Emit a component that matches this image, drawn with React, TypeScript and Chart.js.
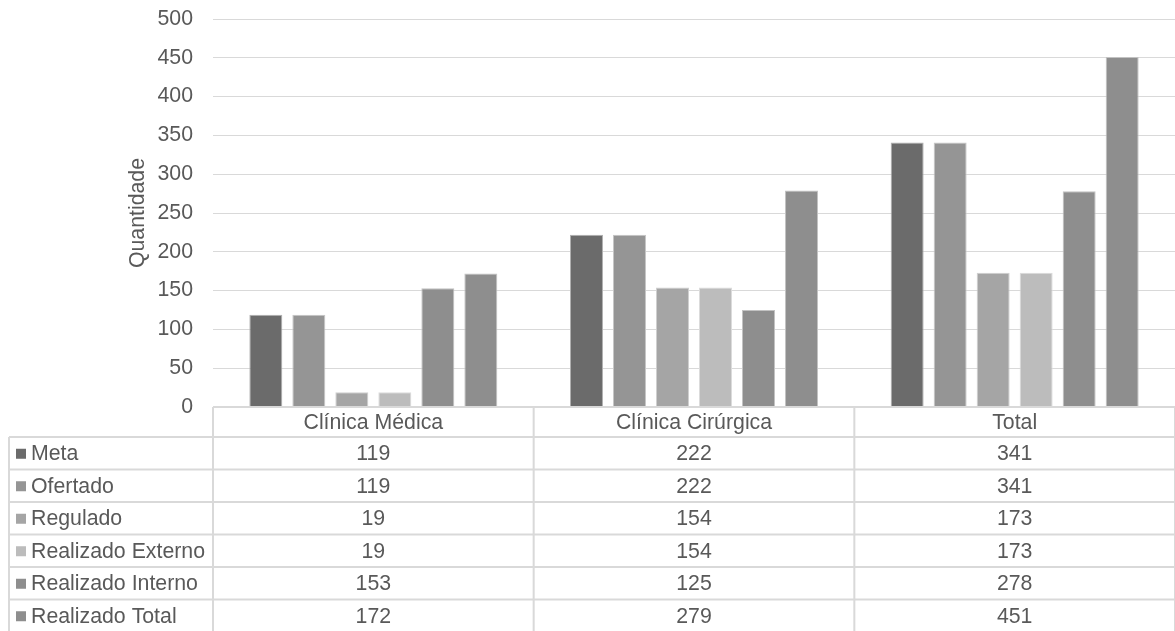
import React, { useEffect, useRef } from "react";
import { Chart, registerables } from "chart.js";

Chart.register(...registerables);

const categories = ["Clínica Médica", "Clínica Cirúrgica", "Total"];
const seriesNames = [
  "Meta",
  "Ofertado",
  "Regulado",
  "Realizado Externo",
  "Realizado Interno",
  "Realizado Total",
];
const meta = [119, 222, 341];
const ofertado = [119, 222, 341];
const regulado = [19, 154, 173];
const realizadoExterno = [19, 154, 173];
const realizadoInterno = [153, 125, 278];
const realizadoTotal = [172, 279, 451];
const yAxisTitle = "Quantidade";
const yMin = 0;
const yMax = 500;
const yStep = 50;

const seriesValues = [meta, ofertado, regulado, realizadoExterno, realizadoInterno, realizadoTotal];
const barColors = ["#6b6b6b", "#959595", "#a5a5a5", "#bcbcbc", "#8e8e8e", "#8e8e8e"];
const barBorders = ["#b0b0b0", "#c6c6c6", "#cfcfcf", "#dbdbdb", "#c2c2c2", "#c2c2c2"];

const FONT = "'Liberation Sans', Arial, Helvetica, sans-serif";
const FS = 21.3;
const TEXT = "#595959";
const LINE = "#d9d9d9";

const tablePlugin = {
  id: "dataTable",
  afterDraw(chart: any) {
    const ctx = chart.ctx as CanvasRenderingContext2D;
    const area = chart.chartArea;
    const xs = chart.scales.x;
    const n = categories.length;
    const centers = categories.map((_, i) => xs.getPixelForValue(i));
    const bounds: number[] = [area.left];
    for (let i = 0; i < n - 1; i++) bounds.push((centers[i] + centers[i + 1]) / 2);
    bounds.push(area.right);

    const tableLeft = 9;
    const headerTop = area.bottom;
    const headerH = 30;
    const rowH = 32.5;
    const rowsTop = headerTop + headerH;
    const bottom = rowsTop + rowH * seriesNames.length;

    ctx.save();
    ctx.strokeStyle = LINE;
    ctx.lineWidth = 2;
    ctx.beginPath();
    ctx.moveTo(area.left, headerTop);
    ctx.lineTo(area.right, headerTop);
    for (let r = 0; r <= seriesNames.length; r++) {
      const y = rowsTop + r * rowH;
      ctx.moveTo(tableLeft, y);
      ctx.lineTo(area.right, y);
    }
    for (let i = 0; i < bounds.length; i++) {
      ctx.moveTo(bounds[i], headerTop);
      ctx.lineTo(bounds[i], bottom);
    }
    ctx.moveTo(tableLeft, rowsTop);
    ctx.lineTo(tableLeft, bottom);
    ctx.stroke();

    ctx.fillStyle = TEXT;
    ctx.font = `${FS}px ${FONT}`;
    ctx.textBaseline = "middle";
    ctx.textAlign = "center";
    categories.forEach((c, i) => {
      ctx.fillText(c, centers[i], headerTop + headerH / 2 + 1);
    });

    seriesNames.forEach((name, r) => {
      const cy = rowsTop + r * rowH + rowH / 2 + 1;
      ctx.fillStyle = barColors[r];
      ctx.fillRect(16, cy - 5.5, 10, 10);
      ctx.fillStyle = TEXT;
      ctx.textAlign = "left";
      ctx.fillText(name, 31, cy);
      ctx.textAlign = "center";
      seriesValues[r].forEach((v, i) => {
        ctx.fillText(String(v), centers[i], cy);
      });
    });
    ctx.restore();
  },
};

export default function App() {
  const ref = useRef<HTMLCanvasElement | null>(null);

  useEffect(() => {
    const canvas = ref.current;
    if (!canvas) return;
    const chart = new Chart(canvas, {
      type: "bar",
      data: {
        labels: categories,
        datasets: seriesNames.map((name, i) => ({
          label: name,
          data: seriesValues[i],
          backgroundColor: barColors[i],
          borderColor: barBorders[i],
          borderWidth: 1,
          categoryPercentage: 0.8046,
          barPercentage: 0.767,
        })),
      },
      options: {
        responsive: false,
        animation: false,
        devicePixelRatio: 1,
        layout: { padding: { top: 19, bottom: 224, left: 0, right: 0 } },
        plugins: {
          legend: { display: false },
          tooltip: { enabled: false },
          title: { display: false },
        },
        scales: {
          x: { display: false },
          y: {
            min: yMin,
            max: yMax,
            afterFit(scale: any) {
              scale.width = 213;
              scale.paddingTop = 0;
              scale.paddingBottom = 0;
            },
            ticks: {
              stepSize: yStep,
              padding: 20,
              color: TEXT,
              font: { family: FONT, size: FS },
            },
            grid: { color: LINE, lineWidth: 1, drawTicks: false },
            border: { display: false },
            title: {
              display: true,
              text: yAxisTitle,
              color: TEXT,
              font: { family: FONT, size: FS },
              padding: { top: 125, bottom: 0 },
            },
          },
        },
      },
      plugins: [tablePlugin],
    });
    return () => chart.destroy();
  }, []);

  return (
    <div style={{ position: "fixed", left: 0, top: 0, width: 1175, height: 631, background: "#fff" }}>
      <canvas ref={ref} width={1175} height={631} style={{ width: 1175, height: 631, display: "block" }} />
    </div>
  );
}
